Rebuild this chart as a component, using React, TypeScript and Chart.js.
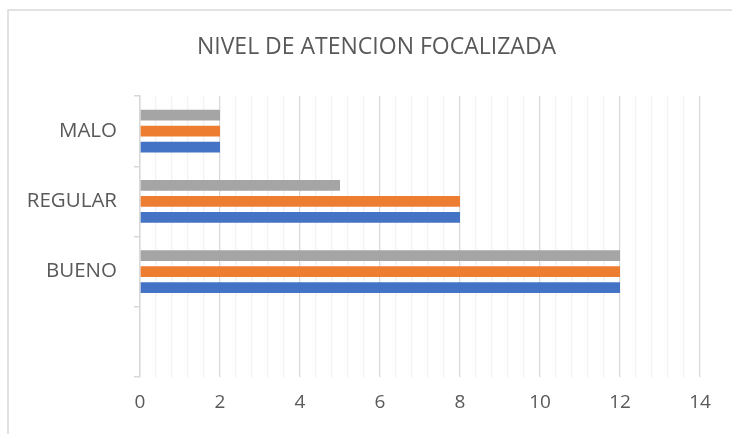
import React, { useEffect, useRef } from "react";
import { Chart, registerables } from "chart.js";

Chart.register(...registerables);

const categories = ["MALO", "REGULAR", "BUENO", ""];
const serie3 = [2, 5, 12, null];
const serie2 = [2, 8, 12, null];
const serie1 = [2, 8, 12, null];
const majorTicks = [0, 2, 4, 6, 8, 10, 12, 14];
const minorStep = 0.4;
const title = "NIVEL DE ATENCION FOCALIZADA";

const FONT = "'Open Sans', 'DejaVu Sans', sans-serif";

export default function App() {
  const ref = useRef<HTMLCanvasElement | null>(null);
  useEffect(() => {
    if (!ref.current) return;
    const framePlugin = {
      id: "frame",
      beforeDraw(chart: any) {
        const ctx = chart.ctx;
        ctx.save();
        ctx.fillStyle = "#ffffff";
        ctx.fillRect(0, 0, chart.width, chart.height);
        ctx.strokeStyle = "#d9d9d9";
        ctx.lineWidth = 1.5;
        ctx.beginPath();
        ctx.moveTo(8, chart.height);
        ctx.lineTo(8, 10);
        ctx.lineTo(chart.width, 10);
        ctx.stroke();
        ctx.fillStyle = "#595959";
        ctx.font = "23px " + FONT;
        ctx.textAlign = "center";
        ctx.textBaseline = "middle";
        ctx.fillText(title, 376.5, 47);
        ctx.restore();
      },
    };
    const maxV = majorTicks[majorTicks.length - 1];
    const nMinor = Math.round(maxV / minorStep);
    const chart = new Chart(ref.current, {
      type: "bar",
      data: {
        labels: categories,
        datasets: [
          { label: "Serie3", data: serie3, backgroundColor: "#a5a5a5" },
          { label: "Serie2", data: serie2, backgroundColor: "#ed7d31" },
          { label: "Serie1", data: serie1, backgroundColor: "#4472c4" },
        ],
      },
      options: {
        indexAxis: "y",
        responsive: false,
        animation: false,
        layout: { padding: { left: 0, right: 32, top: 96, bottom: 0 } },
        datasets: { bar: { categoryPercentage: 0.68, barPercentage: 0.67 } },
        plugins: {
          legend: { display: false },
          tooltip: { enabled: false },
          title: { display: false },
        },
        scales: {
          x: {
            type: "linear",
            min: 0,
            max: maxV,
            afterBuildTicks(axis: any) {
              const t = [];
              for (let i = 0; i <= nMinor; i++) {
                t.push({ value: Math.round(i * minorStep * 10) / 10 });
              }
              axis.ticks = t;
            },
            afterFit(axis: any) {
              axis.height = 57;
            },
            border: { display: false },
            grid: {
              drawTicks: false,
              lineWidth: 1.3,
              color: (ctx: any) => {
                const v = ctx.tick ? ctx.tick.value : 0;
                return majorTicks.includes(v) ? "#d9d9d9" : "#f2f2f2";
              },
            },
            ticks: {
              autoSkip: false,
              maxRotation: 0,
              padding: 14.6,
              color: "#595959",
              font: { family: FONT, size: 19 },
              callback: (v: any) => (majorTicks.includes(Number(v)) ? String(v) : ""),
            },
          },
          y: {
            type: "category",
            afterFit(axis: any) {
              axis.width = 140;
            },
            border: { display: true, color: "#d9d9d9", width: 1.5 },
            grid: {
              display: true,
              offset: true,
              drawOnChartArea: false,
              tickLength: 6,
              color: "#d9d9d9",
              lineWidth: 1.5,
            },
            ticks: {
              padding: 17,
              color: "#595959",
              font: { family: FONT, size: 20.5 },
            },
          },
        },
      },
      plugins: [framePlugin],
    });
    return () => chart.destroy();
  }, []);
  return (
    <div style={{ position: "fixed", left: 0, top: 0, width: 732, height: 434 }}>
      <canvas ref={ref} width={732} height={434} />
    </div>
  );
}
